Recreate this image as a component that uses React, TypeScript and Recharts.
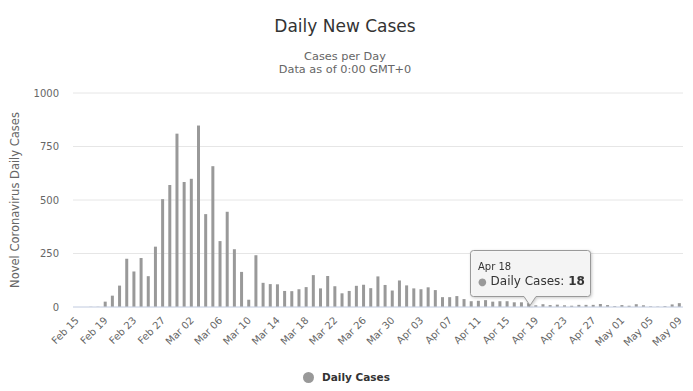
import { BarChart, Bar, XAxis, YAxis, CartesianGrid, Tooltip, Legend } from 'recharts'

// Feb 15 .. May 09 (2020)
const dates = [
  'Feb 15', 'Feb 16', 'Feb 17', 'Feb 18', 'Feb 19', 'Feb 20', 'Feb 21', 'Feb 22', 'Feb 23', 'Feb 24',
  'Feb 25', 'Feb 26', 'Feb 27', 'Feb 28', 'Feb 29', 'Mar 01', 'Mar 02', 'Mar 03', 'Mar 04', 'Mar 05',
  'Mar 06', 'Mar 07', 'Mar 08', 'Mar 09', 'Mar 10', 'Mar 11', 'Mar 12', 'Mar 13', 'Mar 14', 'Mar 15',
  'Mar 16', 'Mar 17', 'Mar 18', 'Mar 19', 'Mar 20', 'Mar 21', 'Mar 22', 'Mar 23', 'Mar 24', 'Mar 25',
  'Mar 26', 'Mar 27', 'Mar 28', 'Mar 29', 'Mar 30', 'Mar 31', 'Apr 01', 'Apr 02', 'Apr 03', 'Apr 04',
  'Apr 05', 'Apr 06', 'Apr 07', 'Apr 08', 'Apr 09', 'Apr 10', 'Apr 11', 'Apr 12', 'Apr 13', 'Apr 14',
  'Apr 15', 'Apr 16', 'Apr 17', 'Apr 18', 'Apr 19', 'Apr 20', 'Apr 21', 'Apr 22', 'Apr 23', 'Apr 24',
  'Apr 25', 'Apr 26', 'Apr 27', 'Apr 28', 'Apr 29', 'Apr 30', 'May 01', 'May 02', 'May 03', 'May 04',
  'May 05', 'May 06', 'May 07', 'May 08', 'May 09',
]

const dailyCases = [
  0, 0, 1, 1, 25, 53, 100, 226, 166, 229,
  144, 282, 504, 570, 810, 584, 599, 848, 434, 658,
  308, 445, 270, 164, 34, 242, 113, 107, 106, 75,
  74, 83, 93, 149, 87, 145, 97, 64, 75, 99,
  104, 88, 143, 103, 77, 124, 101, 87, 83, 92,
  79, 46, 46, 51, 37, 27, 29, 32, 25, 27,
  27, 22, 22, 18, 8, 13, 9, 11, 8, 6,
  10, 10, 10, 14, 9, 4, 9, 6, 13, 8,
  3, 2, 4, 12, 18,
]

const yTicks = [0, 250, 500, 750, 1000]
const seriesName = 'Daily Cases'
const tooltipDate = 'Apr 18'

const data = dates.map((date, i) => ({ date, cases: dailyCases[i] }))

const FONT = '"DejaVu Sans", Verdana, sans-serif'
const BAR = '#999999'

function DateTick({ x, y, payload }: any) {
  const ty = y + 6
  return (
    <text
      x={x + 3}
      y={ty}
      transform={`rotate(-45, ${x + 3}, ${ty})`}
      textAnchor="end"
      fontSize={10}
      fill="#666"
    >
      {payload.value}
    </text>
  )
}

function CalloutTooltip({ active, payload, label }: any) {
  if (!active || !payload || !payload.length) return null
  return (
    <svg
      width={134}
      height={68}
      style={{ overflow: 'visible', display: 'block', filter: 'drop-shadow(1px 1px 1.5px rgba(0,0,0,0.22))' }}
    >
      <path
        d="M 9.5 6.5 L 123.5 6.5 Q 126.5 6.5 126.5 9.5 L 126.5 49.5 Q 126.5 52.5 123.5 52.5 L 72 52.5 L 66 61.5 L 60 52.5 L 9.5 52.5 Q 6.5 52.5 6.5 49.5 L 6.5 9.5 Q 6.5 6.5 9.5 6.5 Z"
        fill="rgba(247,247,247,0.92)"
        stroke={BAR}
        strokeWidth={1}
      />
      <text x={14} y={26} fontSize={10} fill="#333">{label}</text>
      <text x={14} y={40.5} fontSize={12} fill="#333">
        <tspan fill={BAR} fontSize={10}>●</tspan>
        <tspan> {payload[0].name}: </tspan>
        <tspan fontWeight="bold">{payload[0].value}</tspan>
      </text>
    </svg>
  )
}

function LegendBox() {
  return (
    <div style={{ height: 24, display: 'flex', justifyContent: 'center', alignItems: 'center', paddingLeft: 2 }}>
      <span style={{ width: 11, height: 11, borderRadius: '50%', background: BAR, display: 'inline-block', marginRight: 8 }} />
      <span style={{ fontSize: 10.5, fontWeight: 'bold', color: '#333' }}>{seriesName}</span>
    </div>
  )
}

export default function App() {
  return (
    <div style={{ position: 'absolute', left: 0, top: 0, width: 693, height: 391, background: '#fff', fontFamily: FONT }}>
      <div style={{ position: 'absolute', top: 16, left: 0, width: 690, textAlign: 'center', fontSize: 17, lineHeight: '20px', color: '#333' }}>
        Daily New Cases
      </div>
      <div style={{ position: 'absolute', top: 50, left: 0, width: 690, textAlign: 'center', fontSize: 11.3, lineHeight: '13.4px', color: '#666' }}>
        Cases per Day
        <br />
        Data as of 0:00 GMT+0
      </div>
      <BarChart width={693} height={391} data={data} margin={{ top: 93, right: 10, bottom: 2, left: 8 }}>
        <CartesianGrid vertical={false} stroke="#e6e6e6" />
        <XAxis
          dataKey="date"
          interval={3}
          height={58}
          tick={<DateTick />}
          tickLine={false}
          axisLine={{ stroke: '#ccd6eb' }}
        />
        <YAxis
          width={65}
          domain={[0, 1000]}
          ticks={yTicks}
          tickLine={false}
          axisLine={false}
          tick={{ fontSize: 10, fill: '#666' }}
          tickMargin={8}
          label={(props: any) => {
            const vb = props.viewBox || { x: 8, y: 93, width: 65, height: 214 }
            const cx = vb.x + 7
            const cy = vb.y + vb.height / 2
            return (
              <text x={cx} y={cy} transform={`rotate(-90, ${cx}, ${cy})`} textAnchor="middle" dominantBaseline="central" fontSize={11.5} fill="#666">
                Novel Coronavirus Daily Cases
              </text>
            )
          }}
        />
        <Tooltip
          defaultIndex={dates.indexOf(tooltipDate)}
          active
          cursor={false}
          position={{ x: 464, y: 244 }}
          isAnimationActive={false}
          content={<CalloutTooltip />}
          wrapperStyle={{ outline: 'none' }}
        />
        <Legend verticalAlign="bottom" height={24} content={<LegendBox />} />
        <Bar dataKey="cases" name={seriesName} fill={BAR} barSize={3} isAnimationActive={false} />
      </BarChart>
    </div>
  )
}
